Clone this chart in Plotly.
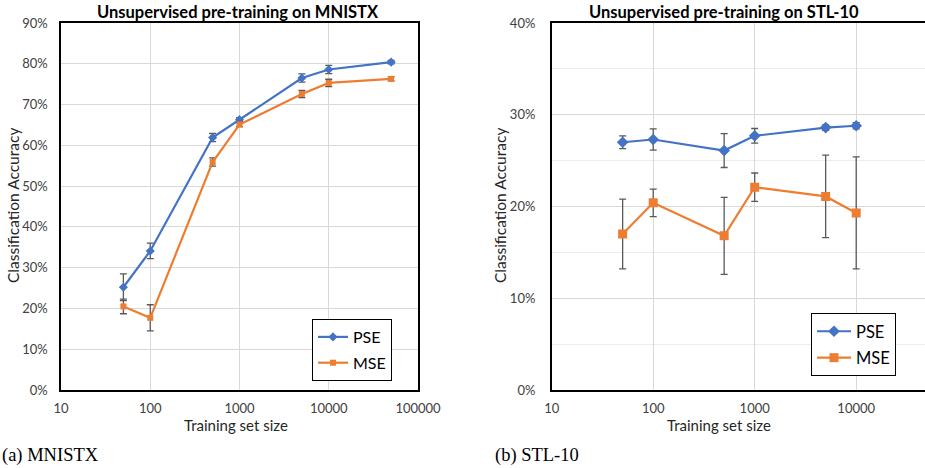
import plotly.graph_objects as go

# ---- data ----
sizes_mnist = [50, 100, 500, 1000, 5000, 10000, 50000]
pse_mnist = [25.2, 34.1, 61.9, 66.3, 76.5, 78.6, 80.4]
pse_mnist_err = [3.3, 1.9, 1.0, 0.5, 1.0, 1.0, 0.4]
mse_mnist = [20.5, 17.7, 55.9, 65.1, 72.6, 75.3, 76.3]
mse_mnist_err = [1.8, 3.2, 1.0, 0.5, 0.9, 0.9, 0.5]

sizes_stl = [50, 100, 500, 1000, 5000, 10000]
pse_stl = [27.0, 27.3, 26.1, 27.7, 28.6, 28.8]
pse_stl_err = [0.7, 1.15, 1.85, 0.8, 0.3, 0.35]
mse_stl = [17.0, 20.4, 16.8, 22.1, 21.1, 19.3]
mse_stl_err = [3.8, 1.5, 4.2, 1.55, 4.5, 6.1]

x_ticks_left = [10, 100, 1000, 10000, 100000]
x_ticks_right = [10, 100, 1000, 10000]
y_ticks_left = [0, 10, 20, 30, 40, 50, 60, 70, 80, 90]
y_ticks_right = [0, 10, 20, 30, 40]

BLUE = "#4472C4"
ORANGE = "#ED7D31"
ERR = "#595959"
FONT = "Lato"
W, H = 925, 468

def px(x):
    return x / W

def py(y):
    return 1 - y / H

fig = go.Figure()

def add(x, y, err, name, color, symbol, msize, xa, ya, legend, group):
    fig.add_trace(go.Scatter(
        x=x, y=y, name=name, mode="lines+markers",
        line=dict(color=color, width=2.2),
        marker=dict(symbol=symbol, size=msize, color=color),
        error_y=dict(type="data", array=err, visible=True, color=ERR,
                     thickness=1.3, width=3.5),
        xaxis=xa, yaxis=ya, legend=legend, legendgroup=group,
    ))

add(sizes_mnist, pse_mnist, pse_mnist_err, "PSE", BLUE, "diamond", 7, "x", "y", "legend", "a1")
add(sizes_mnist, mse_mnist, mse_mnist_err, "MSE", ORANGE, "square", 6, "x", "y", "legend", "a2")
add(sizes_stl, pse_stl, pse_stl_err, "PSE", BLUE, "diamond", 9, "x2", "y2", "legend2", "b1")
add(sizes_stl, mse_stl, mse_stl_err, "MSE", ORANGE, "square", 9, "x2", "y2", "legend2", "b2")

tickfont = dict(family=FONT, size=13, color="#404040")
grid = "#D9D9D9"

plot_top, plot_bot = 23, 390

fig.update_layout(
    width=W, height=H, margin=dict(l=0, r=0, t=0, b=0, autoexpand=False),
    paper_bgcolor="white", plot_bgcolor="white",
    font=dict(family=FONT),
    xaxis=dict(type="log", range=[1, 5], domain=[px(61), px(418)],
               tickvals=x_ticks_left, ticktext=[str(v) for v in x_ticks_left],
               tickfont=tickfont, showgrid=True, gridcolor=grid, gridwidth=1,
               showline=True, linecolor="#000", linewidth=1.5, mirror=True,
               ticks="", ticklabelstandoff=6, zeroline=False, anchor="y",
               automargin=False),
    yaxis=dict(range=[0, 90], domain=[py(plot_bot), py(plot_top)],
               tickvals=y_ticks_left, ticktext=[f"{v}%" for v in y_ticks_left],
               tickfont=tickfont, showgrid=True, gridcolor=grid, gridwidth=1,
               showline=True, linecolor="#000", linewidth=1.5, mirror=True,
               ticks="", ticklabelstandoff=9, zeroline=False, anchor="x",
               automargin=False),
    xaxis2=dict(type="log", range=[1, 1 + (925 - 551.7) / 101.5],
                domain=[px(551.7), 1.0],
                tickvals=x_ticks_right, ticktext=[str(v) for v in x_ticks_right],
                tickfont=tickfont, showgrid=True, gridcolor=grid, gridwidth=1,
                showline=True, linecolor="#000", linewidth=1.5, mirror=True,
                ticks="", ticklabelstandoff=6, zeroline=False, anchor="y2",
                automargin=False),
    yaxis2=dict(range=[0, 40], domain=[py(plot_bot), py(plot_top)],
                tickvals=y_ticks_right, ticktext=[f"{v}%" for v in y_ticks_right],
                tickfont=tickfont, showgrid=True, gridcolor=grid, gridwidth=1,
                minor=dict(dtick=5, showgrid=True, gridcolor="#EDEDED", gridwidth=1, ticks=""),
                showline=True, linecolor="#000", linewidth=1.5, mirror=False,
                ticks="", ticklabelstandoff=12, zeroline=False, anchor="x2",
                automargin=False),
    legend=dict(x=px(312), y=py(319), xanchor="left", yanchor="top",
                bordercolor="#000", borderwidth=1, bgcolor="white",
                font=dict(family=FONT, size=16, color="#000"),
                itemwidth=30, traceorder="grouped", tracegroupgap=2),
    legend2=dict(x=px(811), y=py(313), xanchor="left", yanchor="top",
                 bordercolor="#000", borderwidth=1, bgcolor="white",
                 font=dict(family=FONT, size=16.5, color="#000"),
                 itemwidth=34, traceorder="grouped", tracegroupgap=2),
    showlegend=True,
)

ann = []
ann.append(dict(text="<b>Unsupervised pre-training on MNISTX</b>", x=px(238), y=py(12),
                font=dict(family=FONT, size=16.5, color="#000")))
ann.append(dict(text="<b>Unsupervised pre-training on STL-10</b>", x=px(724), y=py(12),
                font=dict(family=FONT, size=16.5, color="#000")))
ann.append(dict(text="Training set size", x=px(236), y=py(425),
                font=dict(family=FONT, size=15, color="#262626")))
ann.append(dict(text="Training set size", x=px(719), y=py(425),
                font=dict(family=FONT, size=15, color="#262626")))
ann.append(dict(text="Classification Accuracy", x=px(13), y=py(206), textangle=-90,
                font=dict(family=FONT, size=15.5, color="#262626")))
ann.append(dict(text="Classification Accuracy", x=px(500), y=py(206), textangle=-90,
                font=dict(family=FONT, size=15.5, color="#262626")))
ann.append(dict(text="(a) MNISTX", x=px(0), y=py(455), xanchor="left",
                font=dict(family="Liberation Serif", size=18.5, color="#000")))
ann.append(dict(text="(b) STL-10", x=px(493), y=py(455), xanchor="left",
                font=dict(family="Liberation Serif", size=18.5, color="#000")))
for a in ann:
    a.setdefault("xanchor", "center")
    a.update(xref="paper", yref="paper", yanchor="middle", showarrow=False)
fig.update_layout(annotations=ann)

fig.write_html("out.html")
